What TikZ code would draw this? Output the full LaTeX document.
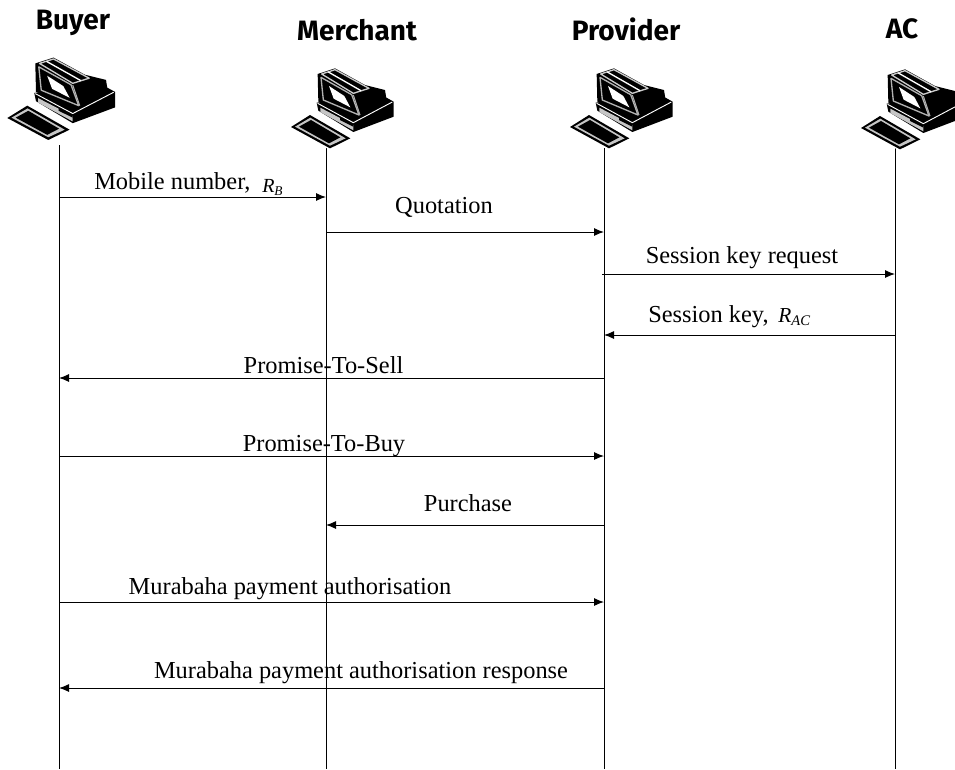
\documentclass[tikz,border=0pt]{standalone}
\usepackage{fontspec}
\usetikzlibrary{arrows.meta}
\setmainfont{Liberation Serif}
\newfontfamily\headfont{Fira Sans}
\newcommand{\nonce}[3]{\fontsize{#1}{#1}\selectfont\textit{R}\raisebox{-0.35ex}{\fontsize{#2}{#2}\selectfont\textit{#3}}}
\tikzset{
  head/.style={font=\headfont\bfseries\fontsize{21}{25}\selectfont},
  lbl/.style={font=\fontsize{18.3}{22}\selectfont, inner sep=0pt},
  life/.style={line width=0.75pt},
  msg/.style={line width=0.75pt, -{Latex[length=7.5pt,width=6pt]}},
  pics/computer/.style={code={
    \begin{scope}[scale=1/3, line join=round]
    % base
    \fill[black] (95,128) -- (100,152) -- (205,216) -- (326,170) -- (326,125) -- (290,105) -- (150,120) -- cycle;
    \fill[gray!45] (106,143) -- (205,195) -- (205,211) -- (106,156) -- cycle;
    \fill[black] (165,170) -- (205,190) -- (205,200) -- (165,180) -- cycle;
    \draw[white, line width=0.7pt] (98,130) -- (205,188) -- (322,126);
    % monitor
    \fill[black] (98,42) -- (150,25) -- (240,75) -- (300,90) -- (306,128) -- (222,170) -- (100,125) -- cycle;
    \draw[gray!40, line width=1pt] (110,42) -- (150,29) -- (252,85) -- (205,100) -- cycle;
    \draw[white, line width=1pt] (130,36) -- (228,92);
    \draw[gray!60, line width=1pt] (108,52) -- (200,104) -- (222,165) -- (115,120) -- cycle;
    \fill[white] (132,78) -- (178,108) -- (196,142) -- (146,116) -- cycle;
    \draw[gray!60, line width=0.8pt] (205,105) -- (225,165);
    % keyboard
    \fill[white] (12,200) -- (75,160) -- (202,234) -- (135,270) -- cycle;
    \fill[black] (18,201) -- (75,165) -- (196,235) -- (135,265) -- cycle;
    \fill[gray!45] (30,200) -- (76,173) -- (182,235) -- (135,257) -- cycle;
    \fill[black] (42,200) -- (78,180) -- (166,232) -- (132,250) -- cycle;
    \end{scope}
  }}
}
\begin{document}
\begin{tikzpicture}[x=0.75pt, y=-0.75pt]
  \useasboundingbox (0,0) rectangle (955,769);

  % lifelines
  \coordinate (buyer) at (59,145);
  \coordinate (merchant) at (326,148);
  \coordinate (provider) at (604,148);
  \coordinate (ac) at (895,148);
  \coordinate (buyerend) at (59,769);
  \coordinate (merchantend) at (326,769);
  \coordinate (providerend) at (604,769);
  \coordinate (acend) at (895,769);
  \draw[life] (buyer) -- (buyerend);
  \draw[life] (merchant) -- (merchantend);
  \draw[life] (provider) -- (providerend);
  \draw[life] (ac) -- (acend);

  % machines
  \pic[xscale=1.05, yscale=1.03] at (1,49) {computer};
  \pic at (285,60) {computer};
  \pic at (564,60) {computer};
  \pic at (855,61) {computer};

  \node[head] (buyerlabel) at (73,23) {Buyer};
  \node[head] (merchantlabel) at (357,30) {Merchant};
  \node[head] (providerlabel) at (626,29) {Provider};
  \node[head] (aclabel) at (902,29) {AC};

  % messages
  \draw[msg] (buyer |- 0,197) -- (merchant |- 0,197);
  \draw[msg] (merchant |- 0,232) -- (provider |- 0,232);
  \draw[msg] ([xshift=-1.5pt]provider |- 0,274) -- (ac |- 0,274);
  \draw[msg] (ac |- 0,335) -- (provider |- 0,335);
  \draw[msg] (provider |- 0,378) -- (buyer |- 0,378);
  \draw[msg] (buyer |- 0,456) -- (provider |- 0,456);
  \draw[msg] (provider |- 0,525) -- (merchant |- 0,525);
  \draw[msg] (buyer |- 0,602) -- (provider |- 0,602);
  \draw[msg] (provider |- 0,688) -- (buyer |- 0,688);

  \node[lbl, anchor=base west] (mobile) at (94,189) {Mobile number,};
  \node[lbl, anchor=base west] (mobilenonce) at (262,192) {\nonce{15}{10}{B}};
  \node[lbl, anchor=base] (quotation) at (444,213) {Quotation};
  \node[lbl, anchor=base] (keyrequest) at (742,263) {Session key request};
  \node[lbl, anchor=base west] (sessionkey) at (648,322) {Session key,};
  \node[lbl, anchor=base west] (sessionnonce) at (778,322) {\nonce{16}{11}{AC}};
  \node[lbl, anchor=base] (sell) at (323.5,373) {Promise-To-Sell};
  \node[lbl, anchor=base] (buy) at (324,451) {Promise-To-Buy};
  \node[lbl, anchor=base] (purchase) at (468,511) {Purchase};
  \node[lbl, anchor=base] (authorisation) at (290,594) {Murabaha payment authorisation};
  \node[lbl, anchor=base] (response) at (361,678) {Murabaha payment authorisation response};
\end{tikzpicture}
\end{document}
